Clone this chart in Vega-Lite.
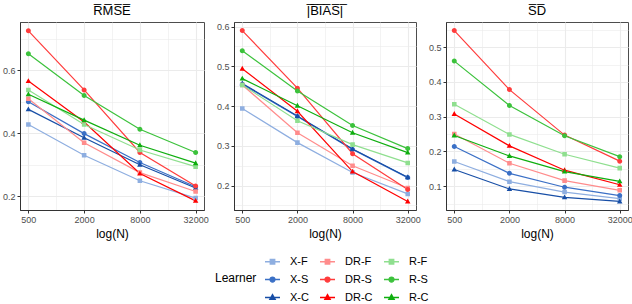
{
  "$schema": "https://vega.github.io/schema/vega-lite/v6.json",
  "padding": {"left": 1, "right": 0, "top": 4, "bottom": 0},
  "spacing": 30,
  "bounds": "flush",
  "config": {
    "font": "Liberation Sans",
    "view": {"stroke": "#4d4d4d", "strokeWidth": 1},
    "title": {"fontSize": 13, "fontWeight": "normal", "color": "#000000", "offset": 4},
    "axis": {
      "labelColor": "#4d4d4d", "labelFontSize": 9, "tickColor": "#333333", "tickSize": 3,
      "domainColor": "#333333", "titleFontWeight": "normal", "titleFontSize": 12, "titleColor": "#000000",
      "labelPadding": 2
    },
    "legend": {
      "orient": "none", "legendX": 195, "legendY": 231,
      "direction": "horizontal", "columns": 3, "titleOrient": "left", "gridAlign": "each",
      "titleFontWeight": "normal", "titleFontSize": 12, "titleColor": "#000000",
      "labelFontSize": 11, "labelColor": "#000000", "rowPadding": 4, "columnPadding": 8,
      "symbolSize": 225, "symbolStrokeWidth": 1.3, "symbolOpacity": 1, "titlePadding": 7, "labelOffset": 9
    }
  },
  "data": {"values": [
    {"m":"RMSE","L":"X-F","N":500,"v":0.428},{"m":"RMSE","L":"X-F","N":2000,"v":0.330},{"m":"RMSE","L":"X-F","N":8000,"v":0.249},{"m":"RMSE","L":"X-F","N":32000,"v":0.194},
    {"m":"RMSE","L":"X-S","N":500,"v":0.500},{"m":"RMSE","L":"X-S","N":2000,"v":0.399},{"m":"RMSE","L":"X-S","N":8000,"v":0.307},{"m":"RMSE","L":"X-S","N":32000,"v":0.230},
    {"m":"RMSE","L":"X-C","N":500,"v":0.476},{"m":"RMSE","L":"X-C","N":2000,"v":0.386},{"m":"RMSE","L":"X-C","N":8000,"v":0.300},{"m":"RMSE","L":"X-C","N":32000,"v":0.226},
    {"m":"RMSE","L":"DR-F","N":500,"v":0.510},{"m":"RMSE","L":"DR-F","N":2000,"v":0.370},{"m":"RMSE","L":"DR-F","N":8000,"v":0.275},{"m":"RMSE","L":"DR-F","N":32000,"v":0.215},
    {"m":"RMSE","L":"DR-S","N":500,"v":0.726},{"m":"RMSE","L":"DR-S","N":2000,"v":0.538},{"m":"RMSE","L":"DR-S","N":8000,"v":0.339},{"m":"RMSE","L":"DR-S","N":32000,"v":0.232},
    {"m":"RMSE","L":"DR-C","N":500,"v":0.566},{"m":"RMSE","L":"DR-C","N":2000,"v":0.436},{"m":"RMSE","L":"DR-C","N":8000,"v":0.272},{"m":"RMSE","L":"DR-C","N":32000,"v":0.185},
    {"m":"RMSE","L":"R-F","N":500,"v":0.538},{"m":"RMSE","L":"R-F","N":2000,"v":0.428},{"m":"RMSE","L":"R-F","N":8000,"v":0.347},{"m":"RMSE","L":"R-F","N":32000,"v":0.294},
    {"m":"RMSE","L":"R-S","N":500,"v":0.653},{"m":"RMSE","L":"R-S","N":2000,"v":0.520},{"m":"RMSE","L":"R-S","N":8000,"v":0.413},{"m":"RMSE","L":"R-S","N":32000,"v":0.339},
    {"m":"RMSE","L":"R-C","N":500,"v":0.524},{"m":"RMSE","L":"R-C","N":2000,"v":0.442},{"m":"RMSE","L":"R-C","N":8000,"v":0.362},{"m":"RMSE","L":"R-C","N":32000,"v":0.305},

    {"m":"BIAS","L":"X-F","N":500,"v":0.394},{"m":"BIAS","L":"X-F","N":2000,"v":0.308},{"m":"BIAS","L":"X-F","N":8000,"v":0.233},{"m":"BIAS","L":"X-F","N":32000,"v":0.179},
    {"m":"BIAS","L":"X-S","N":500,"v":0.455},{"m":"BIAS","L":"X-S","N":2000,"v":0.374},{"m":"BIAS","L":"X-S","N":8000,"v":0.291},{"m":"BIAS","L":"X-S","N":32000,"v":0.220},
    {"m":"BIAS","L":"X-C","N":500,"v":0.457},{"m":"BIAS","L":"X-C","N":2000,"v":0.375},{"m":"BIAS","L":"X-C","N":8000,"v":0.292},{"m":"BIAS","L":"X-C","N":32000,"v":0.221},
    {"m":"BIAS","L":"DR-F","N":500,"v":0.453},{"m":"BIAS","L":"DR-F","N":2000,"v":0.333},{"m":"BIAS","L":"DR-F","N":8000,"v":0.250},{"m":"BIAS","L":"DR-F","N":32000,"v":0.194},
    {"m":"BIAS","L":"DR-S","N":500,"v":0.590},{"m":"BIAS","L":"DR-S","N":2000,"v":0.445},{"m":"BIAS","L":"DR-S","N":8000,"v":0.280},{"m":"BIAS","L":"DR-S","N":32000,"v":0.190},
    {"m":"BIAS","L":"DR-C","N":500,"v":0.494},{"m":"BIAS","L":"DR-C","N":2000,"v":0.387},{"m":"BIAS","L":"DR-C","N":8000,"v":0.235},{"m":"BIAS","L":"DR-C","N":32000,"v":0.160},
    {"m":"BIAS","L":"R-F","N":500,"v":0.453},{"m":"BIAS","L":"R-F","N":2000,"v":0.363},{"m":"BIAS","L":"R-F","N":8000,"v":0.303},{"m":"BIAS","L":"R-F","N":32000,"v":0.257},
    {"m":"BIAS","L":"R-S","N":500,"v":0.539},{"m":"BIAS","L":"R-S","N":2000,"v":0.438},{"m":"BIAS","L":"R-S","N":8000,"v":0.351},{"m":"BIAS","L":"R-S","N":32000,"v":0.293},
    {"m":"BIAS","L":"R-C","N":500,"v":0.469},{"m":"BIAS","L":"R-C","N":2000,"v":0.401},{"m":"BIAS","L":"R-C","N":8000,"v":0.333},{"m":"BIAS","L":"R-C","N":32000,"v":0.283},

    {"m":"SD","L":"X-F","N":500,"v":0.171},{"m":"SD","L":"X-F","N":2000,"v":0.113},{"m":"SD","L":"X-F","N":8000,"v":0.083},{"m":"SD","L":"X-F","N":32000,"v":0.064},
    {"m":"SD","L":"X-S","N":500,"v":0.214},{"m":"SD","L":"X-S","N":2000,"v":0.137},{"m":"SD","L":"X-S","N":8000,"v":0.097},{"m":"SD","L":"X-S","N":32000,"v":0.073},
    {"m":"SD","L":"X-C","N":500,"v":0.148},{"m":"SD","L":"X-C","N":2000,"v":0.092},{"m":"SD","L":"X-C","N":8000,"v":0.068},{"m":"SD","L":"X-C","N":32000,"v":0.056},
    {"m":"SD","L":"DR-F","N":500,"v":0.250},{"m":"SD","L":"DR-F","N":2000,"v":0.166},{"m":"SD","L":"DR-F","N":8000,"v":0.116},{"m":"SD","L":"DR-F","N":32000,"v":0.088},
    {"m":"SD","L":"DR-S","N":500,"v":0.548},{"m":"SD","L":"DR-S","N":2000,"v":0.378},{"m":"SD","L":"DR-S","N":8000,"v":0.247},{"m":"SD","L":"DR-S","N":32000,"v":0.172},
    {"m":"SD","L":"DR-C","N":500,"v":0.308},{"m":"SD","L":"DR-C","N":2000,"v":0.216},{"m":"SD","L":"DR-C","N":8000,"v":0.146},{"m":"SD","L":"DR-C","N":32000,"v":0.104},
    {"m":"SD","L":"R-F","N":500,"v":0.336},{"m":"SD","L":"R-F","N":2000,"v":0.249},{"m":"SD","L":"R-F","N":8000,"v":0.192},{"m":"SD","L":"R-F","N":32000,"v":0.152},
    {"m":"SD","L":"R-S","N":500,"v":0.460},{"m":"SD","L":"R-S","N":2000,"v":0.332},{"m":"SD","L":"R-S","N":8000,"v":0.245},{"m":"SD","L":"R-S","N":32000,"v":0.185},
    {"m":"SD","L":"R-C","N":500,"v":0.246},{"m":"SD","L":"R-C","N":2000,"v":0.187},{"m":"SD","L":"R-C","N":8000,"v":0.142},{"m":"SD","L":"R-C","N":32000,"v":0.114}
  ]},
  "hconcat": [
    {
      "title": "R\u0305M\u0305S\u0305E\u0305",
      "width": 184, "height": 188,
      "transform": [{"filter": "datum.m == 'RMSE'"}],
      "encoding": {
        "x": {"field": "N", "type": "quantitative", "title": "log(N)",
          "scale": {"type": "log", "domain": [406, 39400], "nice": false},
          "axis": {"values": [500,1000,2000,4000,8000,16000,32000],
            "labelExpr": "indexof([1000,4000,16000], datum.value) >= 0 ? '' : datum.value",
            "gridColor": "#ebebeb",
            "gridWidth": {"condition": {"test": "indexof([1000,4000,16000], datum.value) >= 0", "value": 0.6}, "value": 1.1},
            "tickOpacity": {"condition": {"test": "indexof([1000,4000,16000], datum.value) >= 0", "value": 0}, "value": 1}}},
        "y": {"field": "v", "type": "quantitative", "title": null,
          "scale": {"domain": [0.156, 0.754], "nice": false, "zero": false},
          "axis": {"values": [0.2,0.3,0.4,0.5,0.6,0.7],
            "labelExpr": "indexof([0.3,0.5,0.7], datum.value) >= 0 ? '' : format(datum.value, '.1f')",
            "gridColor": "#ebebeb",
            "gridWidth": {"condition": {"test": "indexof([0.3,0.5,0.7], datum.value) >= 0", "value": 0.6}, "value": 1.1},
            "tickOpacity": {"condition": {"test": "indexof([0.3,0.5,0.7], datum.value) >= 0", "value": 0}, "value": 1}}},
        "color": {"field": "L", "type": "nominal", "title": "Learner",
          "scale": {"domain": ["X-F","DR-F","R-F","X-S","DR-S","R-S","X-C","DR-C","R-C"],
            "range": ["#8eaee0","#ff8c8c","#8fdf8f","#3b70c6","#ff3c3c","#3cc23c","#174ea6","#ff0000","#0fae0f"]}},
        "detail": {"field": "L"}
      },
      "layer": [
        {"mark": {"type": "line", "strokeWidth": 1.2}},
        {"mark": {"type": "point", "filled": true, "size": 230, "strokeWidth": 0, "opacity": 1},
         "encoding": {
           "shape": {"field": "L", "type": "nominal", "title": "Learner",
             "scale": {"domain": ["X-F","DR-F","R-F","X-S","DR-S","R-S","X-C","DR-C","R-C"],
               "range": ["M-1,0H1M-0.3,-0.3H0.3V0.3H-0.3Z","M-1,0H1M-0.3,-0.3H0.3V0.3H-0.3Z","M-1,0H1M-0.3,-0.3H0.3V0.3H-0.3Z",
                 "M-1,0H1M0.33,0A0.33,0.33 0 1,1 -0.33,0A0.33,0.33 0 1,1 0.33,0Z","M-1,0H1M0.33,0A0.33,0.33 0 1,1 -0.33,0A0.33,0.33 0 1,1 0.33,0Z","M-1,0H1M0.33,0A0.33,0.33 0 1,1 -0.33,0A0.33,0.33 0 1,1 0.33,0Z",
                 "M-1,0H1M0,-0.38L0.36,0.26H-0.36Z","M-1,0H1M0,-0.38L0.36,0.26H-0.36Z","M-1,0H1M0,-0.38L0.36,0.26H-0.36Z"]}},
           "stroke": {"field": "L", "type": "nominal", "title": "Learner",
             "scale": {"domain": ["X-F","DR-F","R-F","X-S","DR-S","R-S","X-C","DR-C","R-C"],
               "range": ["#8eaee0","#ff8c8c","#8fdf8f","#3b70c6","#ff3c3c","#3cc23c","#174ea6","#ff0000","#0fae0f"]}}
         }}
      ]
    },
    {
      "title": "|\u0305B\u0305I\u0305A\u0305S\u0305|\u0305",
      "width": 182, "height": 188,
      "transform": [{"filter": "datum.m == 'BIAS'"}],
      "encoding": {
        "x": {"field": "N", "type": "quantitative", "title": "log(N)",
          "scale": {"type": "log", "domain": [406, 39400], "nice": false},
          "axis": {"values": [500,1000,2000,4000,8000,16000,32000],
            "labelExpr": "indexof([1000,4000,16000], datum.value) >= 0 ? '' : datum.value",
            "gridColor": "#ebebeb",
            "gridWidth": {"condition": {"test": "indexof([1000,4000,16000], datum.value) >= 0", "value": 0.6}, "value": 1.1},
            "tickOpacity": {"condition": {"test": "indexof([1000,4000,16000], datum.value) >= 0", "value": 0}, "value": 1}}},
        "y": {"field": "v", "type": "quantitative", "title": null,
          "scale": {"domain": [0.1385, 0.6115], "nice": false, "zero": false},
          "axis": {"values": [0.15,0.2,0.25,0.3,0.35,0.4,0.45,0.5,0.55,0.6],
            "labelExpr": "indexof([0.15,0.25,0.35,0.45,0.55], datum.value) >= 0 ? '' : format(datum.value, '.1f')",
            "gridColor": "#ebebeb",
            "gridWidth": {"condition": {"test": "indexof([0.15,0.25,0.35,0.45,0.55], datum.value) >= 0", "value": 0.6}, "value": 1.1},
            "tickOpacity": {"condition": {"test": "indexof([0.15,0.25,0.35,0.45,0.55], datum.value) >= 0", "value": 0}, "value": 1}}},
        "color": {"field": "L", "type": "nominal", "title": "Learner"},
        "detail": {"field": "L"}
      },
      "layer": [
        {"mark": {"type": "line", "strokeWidth": 1.2}},
        {"mark": {"type": "point", "filled": true, "size": 230, "strokeWidth": 0, "opacity": 1},
         "encoding": {"shape": {"field": "L", "type": "nominal", "title": "Learner"},
                      "stroke": {"field": "L", "type": "nominal", "title": "Learner"}}}
      ]
    },
    {
      "title": "S\u0305D\u0305",
      "width": 182, "height": 188,
      "transform": [{"filter": "datum.m == 'SD'"}],
      "encoding": {
        "x": {"field": "N", "type": "quantitative", "title": "log(N)",
          "scale": {"type": "log", "domain": [406, 39400], "nice": false},
          "axis": {"values": [500,1000,2000,4000,8000,16000,32000],
            "labelExpr": "indexof([1000,4000,16000], datum.value) >= 0 ? '' : datum.value",
            "gridColor": "#ebebeb",
            "gridWidth": {"condition": {"test": "indexof([1000,4000,16000], datum.value) >= 0", "value": 0.6}, "value": 1.1},
            "tickOpacity": {"condition": {"test": "indexof([1000,4000,16000], datum.value) >= 0", "value": 0}, "value": 1}}},
        "y": {"field": "v", "type": "quantitative", "title": null,
          "scale": {"domain": [0.0314, 0.5726], "nice": false, "zero": false},
          "axis": {"values": [0.05,0.1,0.15,0.2,0.25,0.3,0.35,0.4,0.45,0.5,0.55],
            "labelExpr": "indexof([0.05,0.15,0.25,0.35,0.45,0.55], datum.value) >= 0 ? '' : format(datum.value, '.1f')",
            "gridColor": "#ebebeb",
            "gridWidth": {"condition": {"test": "indexof([0.05,0.15,0.25,0.35,0.45,0.55], datum.value) >= 0", "value": 0.6}, "value": 1.1},
            "tickOpacity": {"condition": {"test": "indexof([0.05,0.15,0.25,0.35,0.45,0.55], datum.value) >= 0", "value": 0}, "value": 1}}},
        "color": {"field": "L", "type": "nominal", "title": "Learner"},
        "detail": {"field": "L"}
      },
      "layer": [
        {"mark": {"type": "line", "strokeWidth": 1.2}},
        {"mark": {"type": "point", "filled": true, "size": 230, "strokeWidth": 0, "opacity": 1},
         "encoding": {"shape": {"field": "L", "type": "nominal", "title": "Learner"},
                      "stroke": {"field": "L", "type": "nominal", "title": "Learner"}}}
      ]
    }
  ]
}
